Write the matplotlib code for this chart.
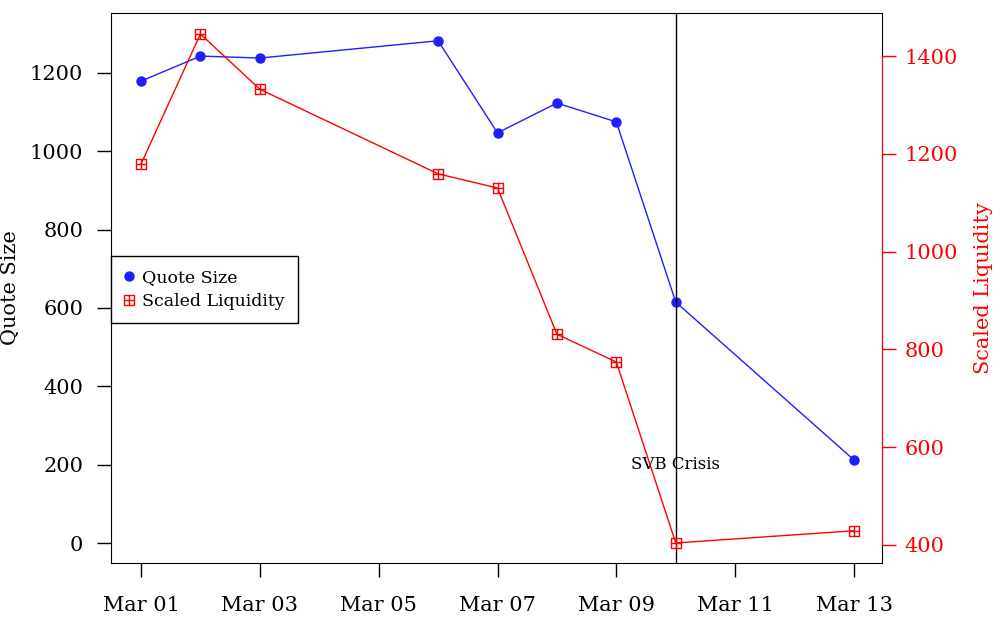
import numpy as np
import pandas as pd
import matplotlib
matplotlib.use('Agg')
import matplotlib.pyplot as plt
import matplotlib.dates as mdates
from matplotlib.path import Path
from matplotlib.lines import Line2D

plt.rcParams['font.family'] = ['DejaVu Serif']

dates = pd.to_datetime(['2023-03-01', '2023-03-02', '2023-03-03', '2023-03-06',
                        '2023-03-07', '2023-03-08', '2023-03-09', '2023-03-10',
                        '2023-03-13'])
quote_size = [1179, 1243, 1238, 1282, 1047, 1123, 1075, 615, 212]
scaled_liquidity = [1179, 1445, 1332, 1159, 1130, 831, 774, 404, 429]
crisis_date = pd.Timestamp('2023-03-10')
tick_dates = pd.date_range('2023-03-01', '2023-03-13', freq='2D')
left_ticks = [0, 200, 400, 600, 800, 1000, 1200]
right_ticks = [400, 600, 800, 1000, 1200, 1400]

blue = '#1f1fff'
red = '#ff0000'

# square with a plus inside (like R's pch 12)
sq_plus = Path([(-1, -1), (1, -1), (1, 1), (-1, 1), (-1, -1),
                (0, -1), (0, 1), (-1, 0), (1, 0)],
               [Path.MOVETO, Path.LINETO, Path.LINETO, Path.LINETO, Path.CLOSEPOLY,
                Path.MOVETO, Path.LINETO, Path.MOVETO, Path.LINETO])

fig = plt.figure(figsize=(10.01, 6.3), dpi=100)
ax = fig.add_axes([0.1109, 0.1063, 0.7702, 0.8731])

ax.plot(dates, quote_size, color=blue, lw=1, marker='o', ms=6.5, mec=blue, mfc=blue)
ax.set_ylim(-51, 1353)
ax.set_yticks(left_ticks)
ax.set_ylabel('Quote Size', fontsize=15)
ax.yaxis.set_label_coords(-0.118, 0.5)
x0 = pd.Timestamp('2023-02-28 11:53')
x1 = pd.Timestamp('2023-03-13 11:18')
ax.set_xlim(x0, x1)
ax.set_xticks(tick_dates)
ax.xaxis.set_major_formatter(mdates.DateFormatter('%b %d'))
ax.tick_params(axis='both', direction='out', length=10, width=1, labelsize=15, pad=10)
ax.tick_params(axis='x', pad=14)

ax.axvline(crisis_date, color='black', lw=1)
ax.text(crisis_date, 200, 'SVB Crisis', ha='center', va='center', fontsize=12)

ax2 = ax.twinx()
ax2.plot(dates, scaled_liquidity, color=red, lw=1, marker=sq_plus, ms=6.5,
         mfc='none', mec=red, mew=1)
ax2.set_ylim(363, 1488)
ax2.set_yticks(right_ticks)
ax2.tick_params(axis='y', colors=red, direction='out', length=10, width=1,
                labelsize=15, pad=6)
ax2.spines['right'].set_bounds(400, 1400)
ax2.spines['right'].set_color(red)
ax2.set_ylabel('Scaled Liquidity', color=red, fontsize=15)
ax2.yaxis.set_label_coords(1.12, 0.5)
for s in ['top', 'left', 'bottom']:
    ax2.spines[s].set_visible(False)

ax.spines['right'].set_color('black')

handles = [Line2D([], [], color=blue, marker='o', ls='none', ms=6.5),
           Line2D([], [], color=red, marker=sq_plus, ls='none', ms=6.5, mfc='none')]
leg = ax.legend(handles, ['Quote Size', 'Scaled Liquidity'], loc='upper left',
                bbox_to_anchor=(0.0, 0.558), fontsize=12.5, frameon=True,
                fancybox=False, edgecolor='black', framealpha=1,
                handlelength=0.6, handletextpad=0.45, borderpad=0.75,
                labelspacing=0.4, borderaxespad=0)
leg.get_frame().set_linewidth(1)

fig.savefig('out.png', dpi=100)
